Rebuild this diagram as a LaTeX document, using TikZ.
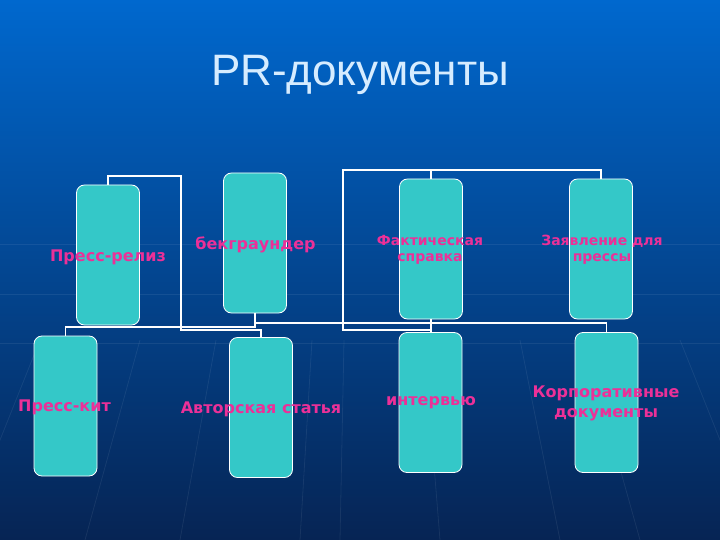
\documentclass[tikz,border=0pt]{standalone}
\usepackage{fontspec}
\newfontfamily\titlefont{Liberation Sans}
\newfontfamily\lblfont{DejaVu Sans}
\definecolor{bgtop}{RGB}{0,104,206}
\definecolor{bgmid}{RGB}{10,74,162}
\definecolor{bgbot}{RGB}{6,36,84}
\definecolor{docfill}{RGB}{52,200,200}
\definecolor{lblpink}{RGB}{236,48,152}
\definecolor{ttlblue}{RGB}{214,236,255}
\begin{document}
\begin{tikzpicture}[
		x=1pt,
		y=-1pt,
		doc/.style={draw=white, line width=0.8pt, fill=docfill, rounded corners=8pt,
				minimum width=63pt, minimum height=140pt, inner sep=0pt},
		lbl/.style={text=lblpink, font=\lblfont\bfseries\fontsize{16}{20}\selectfont,
				align=center, inner sep=0pt},
		lblsm/.style={lbl, font=\lblfont\bfseries\fontsize{14}{16}\selectfont},
		link/.style={draw=white, line width=1.5pt},
		ray/.style={draw=white, opacity=0.07, line width=0.8pt}
	]

	% ---- fundo ----------------------------------------------------
	\useasboundingbox (0,0) rectangle (720,540);
	\shade[top color=bgtop, middle color=bgmid, bottom color=bgbot] (0,0) rectangle (720,540);
	\foreach \y in {244,294,343} {
			\draw[ray] (0,\y) -- (720,\y);
		}
	\foreach \x in {-40,85,180,300,340,440,560,640,760} {
			\draw[ray] (0.8*\x+72,340) .. controls (0.9*\x+36,440) .. (\x,540);
		}

	% ---- titulo ---------------------------------------------------
	\node[anchor=base, text=ttlblue, font=\titlefont\fontsize{44}{50}\selectfont] (ttl) at (360,86) {PR-документы};

	% ---- caixas ---------------------------------------------------
	\node[doc] (relz) at (108,255) {};
	\node[doc] (bekg) at (255,243) {};
	\node[doc] (fakt) at (431,249) {};
	\node[doc] (zayv) at (601,249) {};
	\node[doc] (kit) at (65.5,406) {};
	\node[doc] (avt) at (261,407.5) {};
	\node[doc] (intv) at (430.5,402.5) {};
	\node[doc] (korp) at (606.5,402.5) {};

	% ---- ligacoes -------------------------------------------------
	\coordinate (a1) at (181,176);
	\coordinate (a2) at (181,330);
	\coordinate (b1) at (255,323);
	\coordinate (b2) at (255,327);
	\coordinate (c1) at (343,170);
	\coordinate (c2) at (343,330);
	\coordinate (c3) at (601,170);
	\draw[link] (relz.north) |- (a1) -- (a2) -| (avt.north);
	\draw[link] (bekg.south) -- (b1) -| (korp.north);
	\draw[link] (bekg.south) -- (b2) -| (kit.north);
	\draw[link] (fakt.north) |- (c1) -- (c2) -| (intv.north);
	\draw[link] (fakt.north) |- (c3) -- (zayv.north);
	\draw[link] (fakt.south) -- (fakt.south |- intv.north);

	% ---- rotulos --------------------------------------------------
	\node[lbl] (relz-t) at (108,257) {Пресс-релиз};
	\node[lbl] (bekg-t) at (255.5,245) {бекграундер};
	\node[lblsm] (fakt-t) at (430,250) {Фактическая\\справка};
	\node[lblsm] (zayv-t) at (602,250) {Заявление для\\прессы};
	\node[lbl] (kit-t) at (64.5,407) {Пресс-кит};
	\node[lbl] (avt-t) at (261,409) {Авторская статья};
	\node[lbl] (intv-t) at (431,403) {интервью};
	\node[lbl] (korp-t) at (606,403) {Корпоративные\\документы};
\end{tikzpicture}
\end{document}
